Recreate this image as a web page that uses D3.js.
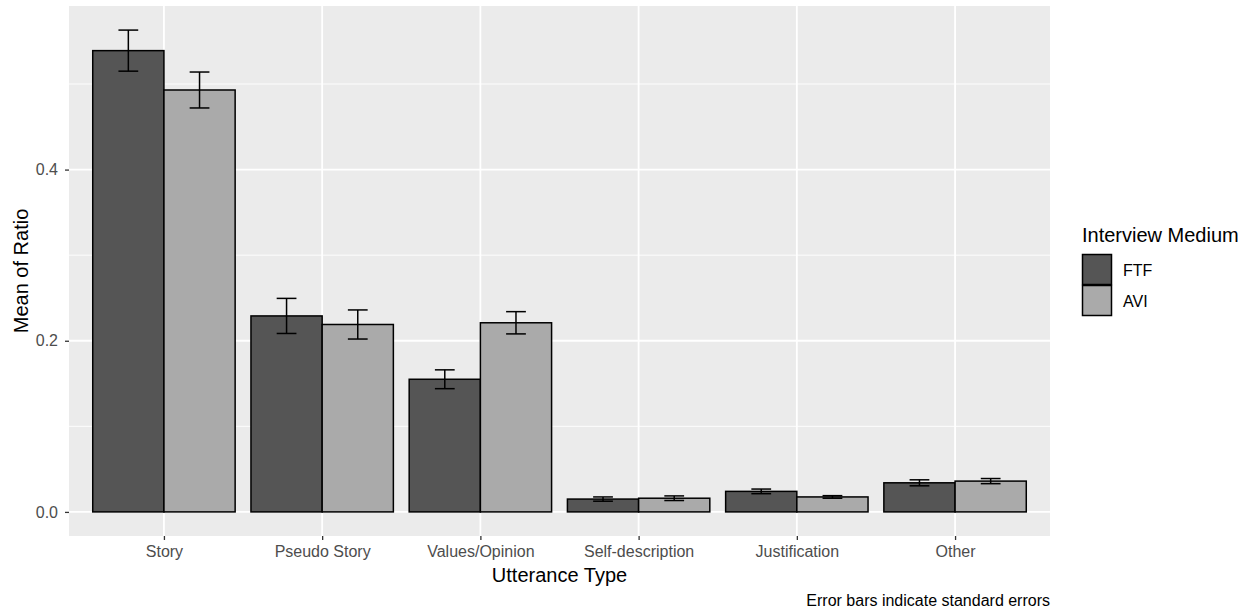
<!DOCTYPE html>
<html>
<head>
<meta charset="utf-8">
<script src="https://cdn.jsdelivr.net/npm/d3@7"></script>
<style>
  html, body { margin: 0; padding: 0; background: #ffffff; }
  svg { display: block; font-family: "Liberation Sans", Arial, Helvetica, sans-serif; }
</style>
</head>
<body>
<svg id="chart" width="1252" height="614"></svg>
<script>
// Utterance categories on the x axis
const categories = ["Story", "Pseudo Story", "Values/Opinion", "Self-description", "Justification", "Other"];

// Interview medium groups
const media = ["FTF", "AVI"];

// Mean ratio per category, face-to-face interviews
const ftfMean = [0.539, 0.229, 0.155, 0.015, 0.024, 0.034];
// Standard error, face-to-face
const ftfSE = [0.024, 0.0205, 0.011, 0.0025, 0.0027, 0.0035];

// Mean ratio per category, asynchronous video interviews
const aviMean = [0.493, 0.219, 0.221, 0.016, 0.0175, 0.036];
// Standard error, asynchronous video
const aviSE = [0.021, 0.017, 0.013, 0.0027, 0.0015, 0.003];

// Axis ticks
const yMajorTicks = [0, 0.2, 0.4];
const yMinorTicks = [0.1, 0.3, 0.5];

const fills = { FTF: "#555555", AVI: "#aaaaaa" };

// Tidy rows built from the arrays above
const rows = [];
categories.forEach((c, i) => {
  rows.push({ cat: c, medium: "FTF", mean: ftfMean[i], se: ftfSE[i] });
  rows.push({ cat: c, medium: "AVI", mean: aviMean[i], se: aviSE[i] });
});

const panel = { left: 69, right: 1050, top: 6, bottom: 536 };

const svg = d3.select("#chart");

// x: discrete positions with 0.6-step outer expansion
const x = d3.scalePoint()
  .domain(categories)
  .range([panel.left, panel.right])
  .padding(0.6);
const step = x.step();
const dodge = 0.9 * step;
const barW = dodge / media.length;
const xOff = d3.scaleBand().domain(media).range([-dodge / 2, dodge / 2]);

// y: continuous, expanded 5% on both ends of the data range
const yMin = 0;
const yMax = d3.max(rows, d => d.mean + d.se);
const pad = (yMax - yMin) * 0.05;
const y = d3.scaleLinear()
  .domain([yMin - pad, yMax + pad])
  .range([panel.bottom, panel.top]);

// Panel background
svg.append("rect")
  .attr("x", panel.left).attr("y", panel.top)
  .attr("width", panel.right - panel.left)
  .attr("height", panel.bottom - panel.top)
  .attr("fill", "#ebebeb");

const grid = svg.append("g");
// Minor horizontal grid
grid.selectAll("line.minor").data(yMinorTicks).enter().append("line")
  .attr("x1", panel.left).attr("x2", panel.right)
  .attr("y1", d => y(d)).attr("y2", d => y(d))
  .attr("stroke", "#ffffff").attr("stroke-width", 0.9);
// Major horizontal grid
grid.selectAll("line.majorY").data(yMajorTicks).enter().append("line")
  .attr("x1", panel.left).attr("x2", panel.right)
  .attr("y1", d => y(d)).attr("y2", d => y(d))
  .attr("stroke", "#ffffff").attr("stroke-width", 1.8);
// Major vertical grid at category centres
grid.selectAll("line.majorX").data(categories).enter().append("line")
  .attr("x1", d => x(d)).attr("x2", d => x(d))
  .attr("y1", panel.top).attr("y2", panel.bottom)
  .attr("stroke", "#ffffff").attr("stroke-width", 1.8);

// Bars
svg.append("g").selectAll("rect").data(rows).enter().append("rect")
  .attr("x", d => x(d.cat) + xOff(d.medium))
  .attr("width", barW)
  .attr("y", d => y(d.mean))
  .attr("height", d => y(0) - y(d.mean))
  .attr("fill", d => fills[d.medium])
  .attr("stroke", "#000000")
  .attr("stroke-width", 1.5);

// Error bars (mean ± SE)
const capW = step * 0.125;
const eb = svg.append("g").attr("stroke", "#000000").attr("stroke-width", 1.5).attr("fill", "none");
rows.forEach(d => {
  const cx = x(d.cat) + xOff(d.medium) + barW / 2;
  const yt = y(d.mean + d.se), yb = y(d.mean - d.se);
  eb.append("line").attr("x1", cx).attr("x2", cx).attr("y1", yt).attr("y2", yb);
  eb.append("line").attr("x1", cx - capW / 2).attr("x2", cx + capW / 2).attr("y1", yt).attr("y2", yt);
  eb.append("line").attr("x1", cx - capW / 2).attr("x2", cx + capW / 2).attr("y1", yb).attr("y2", yb);
});

// Y axis
const yAxis = d3.axisLeft(y).tickValues(yMajorTicks).tickFormat(d3.format(".1f")).tickSize(4).tickPadding(7);
const gy = svg.append("g").attr("transform", `translate(${panel.left},0)`).call(yAxis);
gy.select(".domain").remove();
gy.selectAll(".tick line").attr("stroke", "#333333").attr("stroke-width", 1.3);
gy.selectAll(".tick text").attr("fill", "#4d4d4d").style("font-size", "16px")
  .style("font-family", "'Liberation Sans', Arial, sans-serif");

// X axis
const xAxis = d3.axisBottom(x).tickSize(4).tickPadding(6);
const gx = svg.append("g").attr("transform", `translate(0,${panel.bottom})`).call(xAxis);
gx.select(".domain").remove();
gx.selectAll(".tick line").attr("stroke", "#333333").attr("stroke-width", 1.3);
gx.selectAll(".tick text").attr("fill", "#4d4d4d").style("font-size", "16px")
  .style("font-family", "'Liberation Sans', Arial, sans-serif");

// Axis titles
svg.append("text")
  .attr("x", (panel.left + panel.right) / 2).attr("y", 582)
  .attr("text-anchor", "middle").attr("fill", "#000000")
  .style("font-size", "20px").text("Utterance Type");

svg.append("text")
  .attr("transform", `translate(28,${(panel.top + panel.bottom) / 2}) rotate(-90)`)
  .attr("text-anchor", "middle").attr("fill", "#000000")
  .style("font-size", "20px").text("Mean of Ratio");

// Caption
svg.append("text")
  .attr("x", panel.right).attr("y", 606)
  .attr("text-anchor", "end").attr("fill", "#000000")
  .style("font-size", "16px").text("Error bars indicate standard errors");

// Legend
const lg = svg.append("g").attr("transform", "translate(1082,0)");
lg.append("text").attr("x", 0).attr("y", 242)
  .attr("fill", "#000000").style("font-size", "20px").text("Interview Medium");
media.forEach((m, i) => {
  const top = 254.5 + i * 31;
  lg.append("rect").attr("x", 0.5).attr("y", top).attr("width", 29).attr("height", 30)
    .attr("fill", fills[m]).attr("stroke", "#000000").attr("stroke-width", 1.5);
  lg.append("text").attr("x", 41).attr("y", top + 21.5)
    .attr("fill", "#000000").style("font-size", "16px").text(m);
});
</script>
</body>
</html>
